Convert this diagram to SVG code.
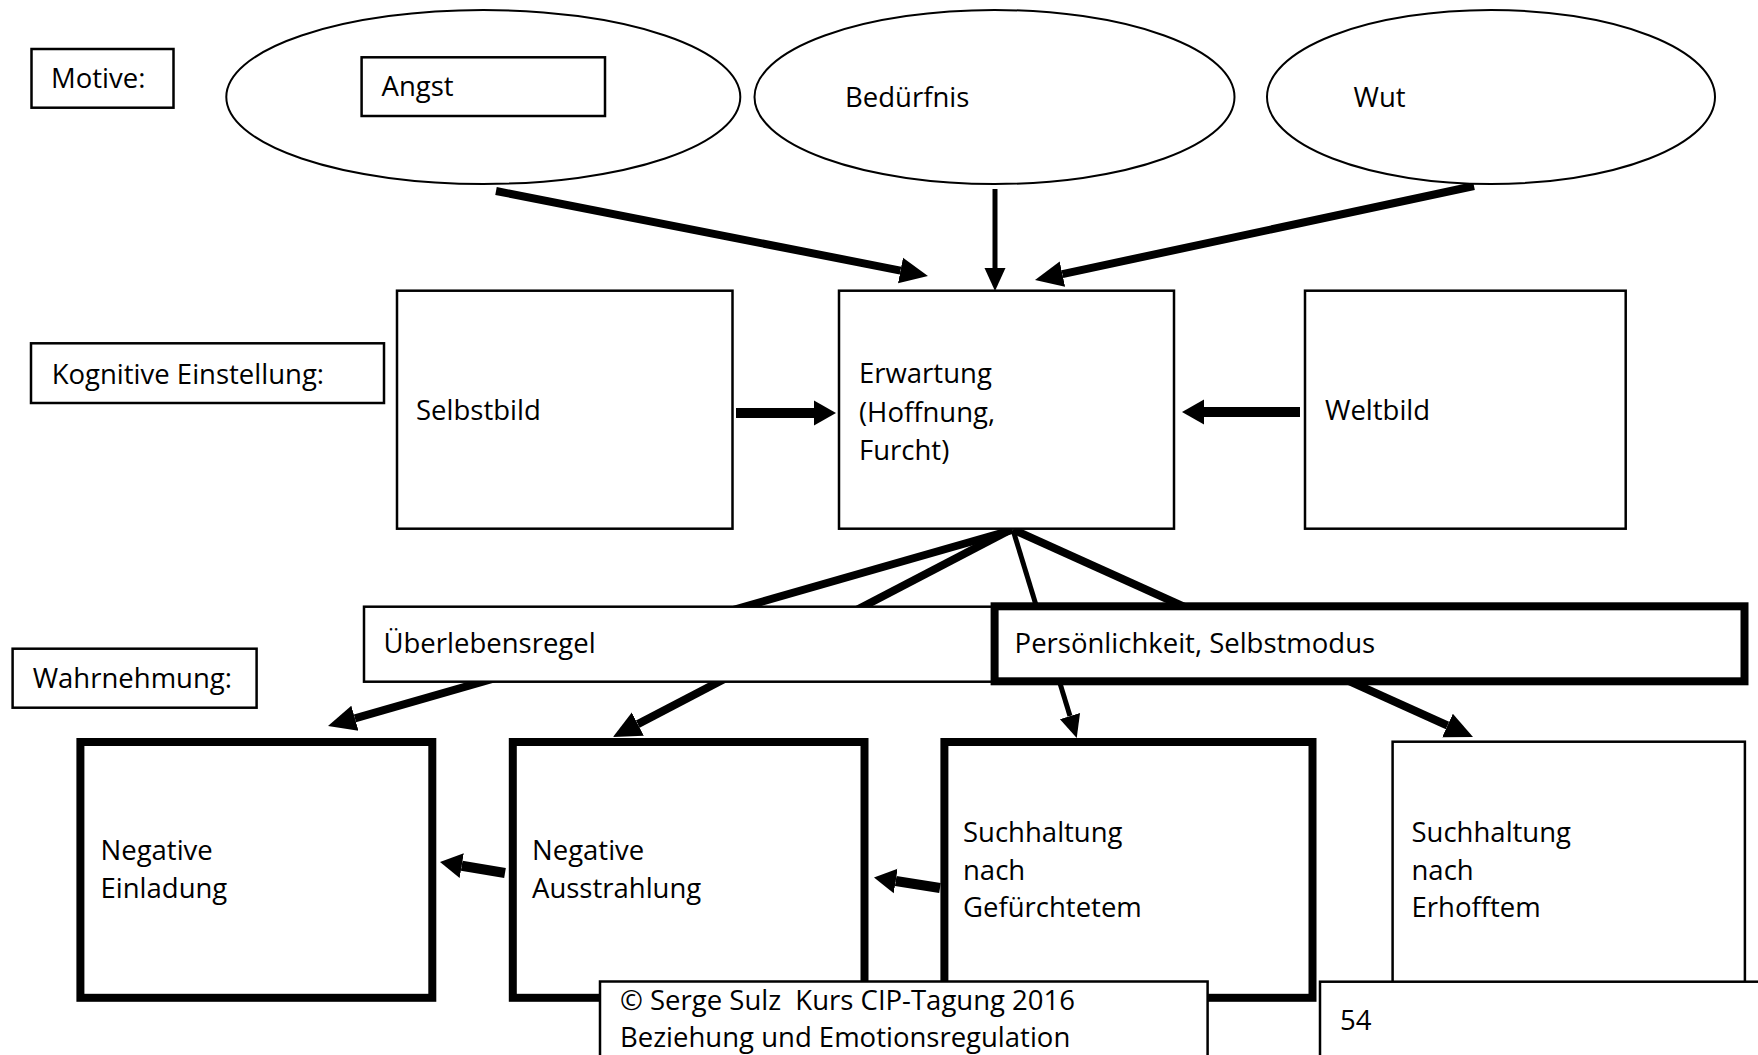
<svg xmlns="http://www.w3.org/2000/svg" width="1758" height="1055" viewBox="0 0 1758 1055">
  <style>
    .t { font-family: "Open Sans", "Noto Sans", "Liberation Sans", sans-serif; font-size: 27.5px; fill: #000; white-space: pre; }
    .box { fill: #fff; stroke: #000; stroke-width: 2.5; }
    .bold { fill: #fff; stroke: #000; stroke-width: 8; }
    .ell { fill: #fff; stroke: #000; stroke-width: 2; }
    .wide { stroke: #000; stroke-width: 8; fill: none; }
    .thin { stroke: #000; stroke-width: 5; fill: none; }
    .block { stroke: #000; stroke-width: 10; fill: none; }
  </style>
  <defs>
    <marker id="head" markerUnits="userSpaceOnUse" markerWidth="30" markerHeight="30" viewBox="0 -15 30 30" refX="0" refY="0" orient="auto">
      <path d="M0,-13 L28,0 L0,13 Z" fill="#000"/>
    </marker>
    <marker id="headSmall" markerUnits="userSpaceOnUse" markerWidth="30" markerHeight="30" viewBox="0 -15 30 30" refX="0" refY="0" orient="auto">
      <path d="M0,-10.5 L23,0 L0,10.5 Z" fill="#000"/>
    </marker>
    <marker id="headBlock" markerUnits="userSpaceOnUse" markerWidth="30" markerHeight="30" viewBox="0 -15 30 30" refX="0" refY="0" orient="auto">
      <path d="M0,-12.5 L22,0 L0,12.5 Z" fill="#000"/>
    </marker>
  </defs>
  <rect width="1758" height="1055" fill="#fff"/>

  <g id="connectors">
    <!-- motives into expectation -->
    <line class="wide" x1="496" y1="191" x2="900.5" y2="270.6" marker-end="url(#head)"/>
    <line class="thin" x1="995" y1="189" x2="995" y2="268" marker-end="url(#headSmall)"/>
    <line class="wide" x1="1474" y1="186" x2="1062.4" y2="274.1" marker-end="url(#head)"/>
    <!-- self image / world image into expectation -->
    <line class="block" x1="736" y1="413" x2="814" y2="413" marker-end="url(#headBlock)"/>
    <line class="block" x1="1300" y1="412" x2="1204" y2="412" marker-end="url(#headBlock)"/>
    <!-- expectation fanning out to perception row -->
    <line class="wide" x1="1012" y1="530" x2="354.9" y2="718.3" marker-end="url(#head)"/>
    <line class="wide" x1="1010" y1="530" x2="637.8" y2="724.1" marker-end="url(#head)"/>
    <line class="thin" x1="1013" y1="530" x2="1070" y2="716.1" marker-end="url(#headSmall)"/>
    <line class="wide" x1="1014" y1="530" x2="1447.5" y2="725.5" marker-end="url(#head)"/>
    <!-- leftward chain in perception row -->
    <line class="block" x1="505" y1="873" x2="461.7" y2="865.7" marker-end="url(#headBlock)"/>
    <line class="block" x1="940" y1="888" x2="895.7" y2="881" marker-end="url(#headBlock)"/>
  </g>

  <g id="label-motive">
    <rect class="box" x="31.5" y="49" width="142" height="58.7"/>
    <text class="t" x="51" y="88">Motive:</text>
  </g>
  <g id="motive-angst">
    <ellipse class="ell" cx="483.3" cy="97" rx="257" ry="87"/>
    <rect class="box" x="361.6" y="57.3" width="243.4" height="58.7"/>
    <text class="t" x="381.5" y="96">Angst</text>
  </g>
  <g id="motive-beduerfnis">
    <ellipse class="ell" cx="994.5" cy="97" rx="240" ry="87"/>
    <text class="t" x="845" y="107">Bedürfnis</text>
  </g>
  <g id="motive-wut">
    <ellipse class="ell" cx="1491" cy="97" rx="224" ry="87"/>
    <text class="t" x="1353.6" y="107">Wut</text>
  </g>

  <g id="label-kognitiv">
    <rect class="box" x="31" y="343.3" width="353" height="59.7"/>
    <text class="t" x="51.7" y="384">Kognitive Einstellung:</text>
  </g>
  <g id="selbstbild">
    <rect class="box" x="397" y="290.7" width="335.5" height="238"/>
    <text class="t" x="416" y="420">Selbstbild</text>
  </g>
  <g id="erwartung">
    <rect class="box" x="839" y="290.7" width="335" height="238"/>
    <text class="t" x="859" y="383.3">Erwartung</text>
    <text class="t" x="859" y="421.7">(Hoffnung,</text>
    <text class="t" x="859" y="460">Furcht)</text>
  </g>
  <g id="weltbild">
    <rect class="box" x="1305" y="290.7" width="320.7" height="238"/>
    <text class="t" x="1325" y="420">Weltbild</text>
  </g>

  <g id="label-wahrnehmung">
    <rect class="box" x="12.6" y="648.7" width="244" height="59"/>
    <text class="t" x="32.7" y="688.3">Wahrnehmung:</text>
  </g>
  <g id="ueberlebensregel">
    <rect class="box" x="364" y="606.7" width="640" height="75"/>
    <text class="t" x="383.5" y="653">Überlebensregel</text>
  </g>
  <g id="persoenlichkeit">
    <rect class="bold" x="994.6" y="606.3" width="749.9" height="75"/>
    <text class="t" x="1014.6" y="653">Persönlichkeit, Selbstmodus</text>
  </g>

  <g id="negative-einladung">
    <rect class="bold" x="80.4" y="742" width="351.9" height="255.8"/>
    <text class="t" x="100.5" y="860">Negative</text>
    <text class="t" x="100.5" y="898">Einladung</text>
  </g>
  <g id="negative-ausstrahlung">
    <rect class="bold" x="512.8" y="742" width="351.7" height="255.8"/>
    <text class="t" x="532" y="860">Negative</text>
    <text class="t" x="532" y="898">Ausstrahlung</text>
  </g>
  <g id="suchhaltung-gefuerchtet">
    <rect class="bold" x="944.4" y="742" width="368.1" height="255.8"/>
    <text class="t" x="963" y="841.7">Suchhaltung</text>
    <text class="t" x="963" y="880">nach</text>
    <text class="t" x="963" y="917.3">Gefürchtetem</text>
  </g>
  <g id="suchhaltung-erhofft">
    <rect class="box" x="1392.6" y="741.7" width="352.3" height="300"/>
    <text class="t" x="1411.5" y="841.7">Suchhaltung</text>
    <text class="t" x="1411.5" y="880">nach</text>
    <text class="t" x="1411.5" y="917.3">Erhofftem</text>
  </g>

  <g id="footer-copyright">
    <rect class="box" x="600" y="981.5" width="607.6" height="90"/>
    <text class="t" x="620" y="1010" xml:space="preserve">© Serge Sulz  Kurs CIP-Tagung 2016</text>
    <text class="t" x="620" y="1046.7">Beziehung und Emotionsregulation</text>
  </g>
  <g id="footer-page">
    <rect class="box" x="1320" y="981.7" width="460" height="90"/>
    <text class="t" x="1340" y="1030">54</text>
  </g>
</svg>
